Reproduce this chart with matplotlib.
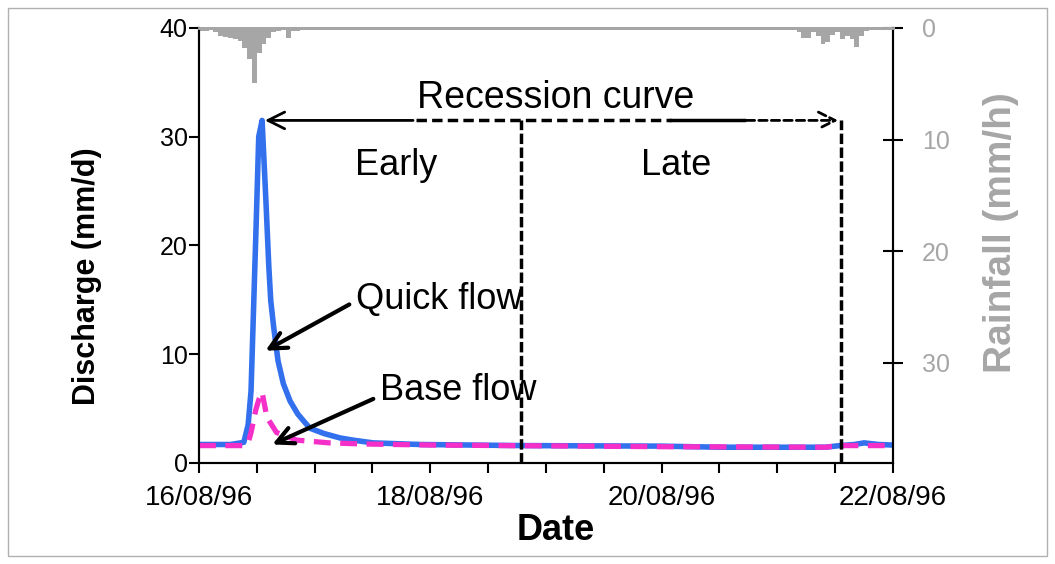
import numpy as np
import pandas as pd
import matplotlib
matplotlib.use("Agg")
import matplotlib.pyplot as plt
import matplotlib.dates as mdates
from matplotlib.patches import Rectangle

plt.rcParams['font.family'] = ['Liberation Sans', 'DejaVu Sans']

start = pd.Timestamp("1996-08-16 00:00")

# Discharge (mm/d), hours since 16/08/96 00:00
quick_hours = [0, 6.6, 9.3, 10.2, 10.8, 11.8, 12.4, 13.1, 13.9, 14.5, 14.9, 15.5, 16.4,
               17.5, 18.9, 20.5, 23.0, 26.0, 29.3, 32.0, 36.1, 46, 67, 96, 108, 130,
               133, 136, 138, 141, 144]
quick_flow = [1.70, 1.70, 1.90, 3.5, 6.6, 21.0, 30.0, 31.5, 24.0, 18.0, 14.9, 12.5, 9.4,
              7.3, 5.7, 4.5, 3.2, 2.7, 2.3, 2.1, 1.85, 1.70, 1.60, 1.55, 1.45, 1.45,
              1.60, 1.70, 1.85, 1.70, 1.65]

base_hours = [0, 9.5, 10.3, 10.8, 11.8, 12.4, 13.1, 14.1, 16.1, 20.3, 27, 34, 48, 96,
              130, 133, 144]
base_flow = [1.60, 1.60, 2.0, 2.8, 4.9, 5.8, 6.5, 4.2, 2.8, 2.1, 1.85, 1.75, 1.65, 1.50,
             1.45, 1.60, 1.60]

# Hourly rainfall (mm/h), hour at start of each bar
rain_hours = list(range(0, 23)) + [58] + list(range(124, 141))
rain_mmh = [0.3, 0.3, 0.2, 0.4, 0.7, 0.8, 0.9, 1.0, 1.2, 1.8, 2.8, 4.9, 2.2, 1.4, 0.9,
            0.4, 0.3, 0.2, 0.9, 0.3, 0.3, 0.2, 0.2,
            0.2,
            0.4, 0.9, 0.9, 0.4, 0.7, 1.4, 1.3, 0.6, 0.4, 1.0, 0.7, 1.0, 1.7, 0.7, 0.3,
            0.2, 0.2]

def to_time(hours):
    return start + pd.to_timedelta(np.array(hours, dtype=float), unit="h")

def hr(h):
    return start + pd.Timedelta(hours=h)

blue = "#3370ee"
magenta = "#f530c8"
grey = "#a6a6a6"

fig = plt.figure(figsize=(10.55, 5.64), dpi=100)
ax = fig.add_axes([0.1886, 0.1791, 0.6578, 0.7713])
ax2 = ax.twinx()
ax.set_zorder(2)
ax.patch.set_visible(False)

# rainfall on inverted right axis
ax2.bar(to_time(rain_hours), rain_mmh, width=1 / 24, align="edge", color=grey,
        edgecolor="none")
ax2.set_ylim(39, 0)
ax2.set_yticks([0, 10, 20, 30])
ax2.tick_params(axis="y", direction="inout", length=14, width=1.5, colors="black",
                labelcolor=grey, labelsize=18, pad=14)
ax2.set_ylabel("Rainfall (mm/h)", color=grey, fontsize=28, fontweight="bold")
ax2.yaxis.set_label_coords(1.13, 0.53)

# discharge
ax.plot(to_time(quick_hours), quick_flow, color=blue, lw=4, solid_joinstyle="round")
ax.plot(to_time(base_hours), base_flow, color=magenta, lw=3.8, ls=(0, (3.2, 1.8)))
ax.set_ylim(0, 40)
ax.set_yticks([0, 10, 20, 30, 40])
ax.set_xlim(start, start + pd.Timedelta(days=6))
ax.xaxis.set_major_locator(mdates.DayLocator(bymonthday=[16, 18, 20, 22]))
ax.xaxis.set_minor_locator(mdates.HourLocator(byhour=[0, 12]))
ax.xaxis.set_major_formatter(mdates.DateFormatter("%d/%m/%y"))
ax.tick_params(axis="both", which="both", direction="out", length=7, width=1.5,
               labelsize=18)
ax.tick_params(axis="x", pad=9, labelsize=20)
ax.tick_params(axis="y", pad=1)
ax.set_xlabel("Date", fontsize=26, fontweight="bold")
ax.xaxis.set_label_coords(0.514, -0.115)
ax.set_ylabel("Discharge (mm/d)", fontsize=22, fontweight="bold")
ax.yaxis.set_label_coords(-0.14, 0.43)

for a in (ax, ax2):
    for s in ("left", "right", "bottom"):
        a.spines[s].set_linewidth(1.5)
    a.spines["top"].set_color(grey)
    a.spines["top"].set_linewidth(2)

# recession curve markers
t_peak = hr(13.1)
t_split = hr(66.8)
t_end = hr(133.2)
y_arr = 31.5
ax.annotate("", xy=(t_peak, y_arr), xytext=(hr(45), y_arr),
            arrowprops=dict(arrowstyle="->", lw=2, color="black", mutation_scale=30))
ax.plot([hr(45), hr(98)], [y_arr, y_arr], color="black", lw=2.5, ls=(0, (3, 1.5)))
ax.plot([hr(98), hr(113)], [y_arr, y_arr], color="black", lw=2.5)
ax.annotate("", xy=(t_end, y_arr), xytext=(hr(113), y_arr),
            arrowprops=dict(arrowstyle="->", lw=2, color="black", mutation_scale=30,
                            ls=(0, (3, 1.5))))
for t in (t_split, t_end):
    ax.plot([t, t], [0, y_arr], color="black", lw=2.5, ls=(0, (3, 1)))

ax.text(hr(74), 33.6, "Recession curve", fontsize=27, ha="center", va="center")
ax.text(hr(41), 27.4, "Early", fontsize=26, ha="center", va="center")
ax.text(hr(99), 27.4, "Late", fontsize=26, ha="center", va="center")

ax.text(hr(32.5), 15.0, "Quick flow", fontsize=26, ha="left", va="center")
ax.annotate("", xy=(hr(13.3), 10.2), xytext=(hr(31.7), 14.7),
            arrowprops=dict(arrowstyle="->", lw=3, color="black", mutation_scale=30))
ax.text(hr(37.6), 6.7, "Base flow", fontsize=26, ha="left", va="center")
ax.annotate("", xy=(hr(14.7), 1.6), xytext=(hr(36.7), 6.0),
            arrowprops=dict(arrowstyle="->", lw=3, color="black", mutation_scale=30))

fig.patches.append(Rectangle((8 / 1055, 8 / 564), 1039 / 1055, 548 / 564,
                             transform=fig.transFigure, fill=False,
                             edgecolor="#b0b0b0", lw=1))

fig.savefig("out.png", dpi=100)
